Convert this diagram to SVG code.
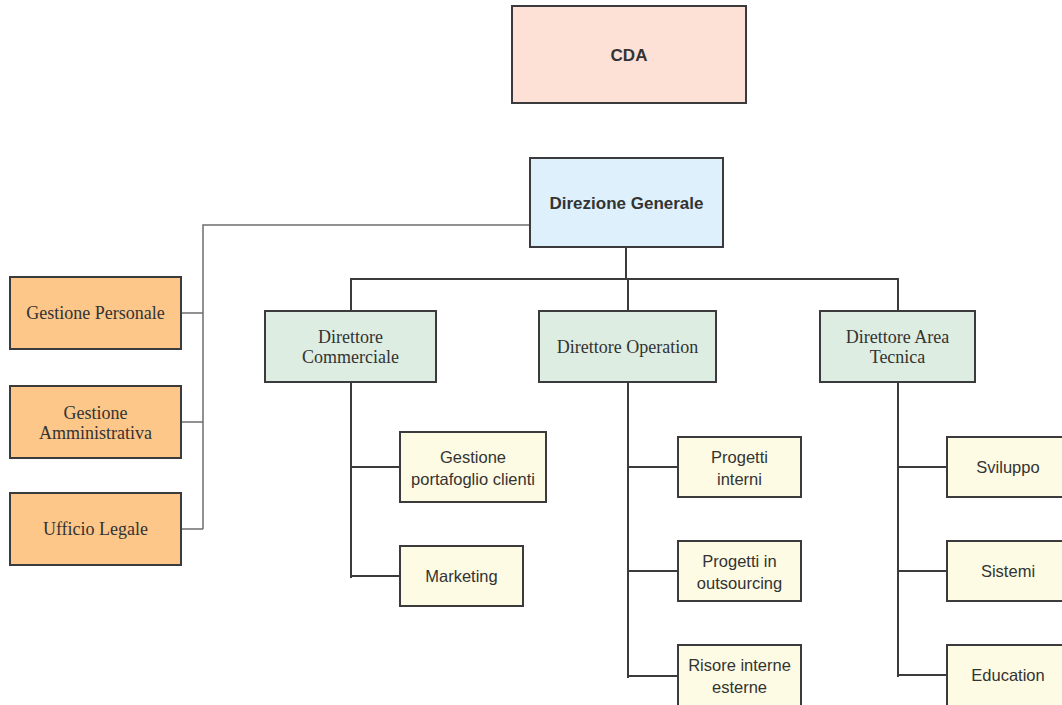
<svg xmlns="http://www.w3.org/2000/svg" width="1062" height="705" viewBox="0 0 1062 705">
<style>
.box{stroke:#3b3b3d;stroke-width:2}
.top{fill:#fde1d7}
.dg{fill:#ddf0fc}
.dir{fill:#ddede1}
.staff{fill:#fdc78a}
.leaf{fill:#fdfbe3}
.b{font-family:"Liberation Sans",Arial,sans-serif;font-weight:bold;font-size:17px;fill:#333;text-anchor:middle}
.s{font-family:"Liberation Sans",Arial,sans-serif;font-size:16.5px;fill:#333;text-anchor:middle}
.t{font-family:"Liberation Serif","Times New Roman",serif;font-size:18px;fill:#333;text-anchor:middle}
.c{fill:none;stroke:#3b3b3d;stroke-width:2}
.g{fill:none;stroke:#6e6e6e;stroke-width:1.5}
</style>
<rect width="1062" height="705" fill="#ffffff"/>
<g id="connectors">
<path class="g" d="M530 225H203V529M181 313H203M181 422H203M181 529H203"/>
<path class="c" d="M626 247V279M351 311V279H898V311M628 279V311"/>
<path class="c" d="M351 382V578M351 467H400M351 576H400"/>
<path class="c" d="M628 382V678M628 467H678M628 571H678M628 676H678"/>
<path class="c" d="M898 382V677M898 467H947M898 571H947M898 675H947"/>
</g>
<g id="cda"><rect class="box top" x="512" y="6" width="234" height="97"/><text class="b" x="629" y="61">CDA</text></g>
<g id="direzione-generale"><rect class="box dg" x="530" y="158" width="193" height="89"/><text class="b" x="626.5" y="209">Direzione Generale</text></g>
<g id="gestione-personale"><rect class="box staff" x="10" y="277" width="171" height="72"/><text class="t" x="95.5" y="319">Gestione Personale</text></g>
<g id="gestione-amministrativa"><rect class="box staff" x="10" y="386" width="171" height="72"/><text class="t" x="95.5" y="419">Gestione</text><text class="t" x="95.5" y="439">Amministrativa</text></g>
<g id="ufficio-legale"><rect class="box staff" x="10" y="493" width="171" height="72"/><text class="t" x="95.5" y="535">Ufficio Legale</text></g>
<g id="direttore-commerciale"><rect class="box dir" x="265" y="311" width="171" height="71"/><text class="t" x="350.5" y="343">Direttore</text><text class="t" x="350.5" y="363">Commerciale</text></g>
<g id="direttore-operation"><rect class="box dir" x="539" y="311" width="177" height="71"/><text class="t" x="627.5" y="353">Direttore Operation</text></g>
<g id="direttore-area-tecnica"><rect class="box dir" x="820" y="311" width="155" height="71"/><text class="t" x="897.5" y="343">Direttore Area</text><text class="t" x="897.5" y="363">Tecnica</text></g>
<g id="gestione-portafoglio"><rect class="box leaf" x="400" y="432" width="146" height="70"/><text class="s" x="473" y="463">Gestione</text><text class="s" x="473" y="485">portafoglio clienti</text></g>
<g id="marketing"><rect class="box leaf" x="400" y="546" width="123" height="60"/><text class="s" x="461.5" y="582">Marketing</text></g>
<g id="progetti-interni"><rect class="box leaf" x="678" y="437" width="123" height="60"/><text class="s" x="739.5" y="463">Progetti</text><text class="s" x="739.5" y="485">interni</text></g>
<g id="progetti-outsourcing"><rect class="box leaf" x="678" y="541" width="123" height="60"/><text class="s" x="739.5" y="567">Progetti in</text><text class="s" x="739.5" y="589">outsourcing</text></g>
<g id="risore-interne-esterne"><rect class="box leaf" x="678" y="645" width="123" height="62"/><text class="s" x="739.5" y="671">Risore interne</text><text class="s" x="739.5" y="693">esterne</text></g>
<g id="sviluppo"><rect class="box leaf" x="947" y="437" width="125" height="60"/><text class="s" x="1008" y="473">Sviluppo</text></g>
<g id="sistemi"><rect class="box leaf" x="947" y="541" width="125" height="60"/><text class="s" x="1008" y="577">Sistemi</text></g>
<g id="education"><rect class="box leaf" x="947" y="645" width="125" height="62"/><text class="s" x="1008" y="681">Education</text></g>
</svg>
